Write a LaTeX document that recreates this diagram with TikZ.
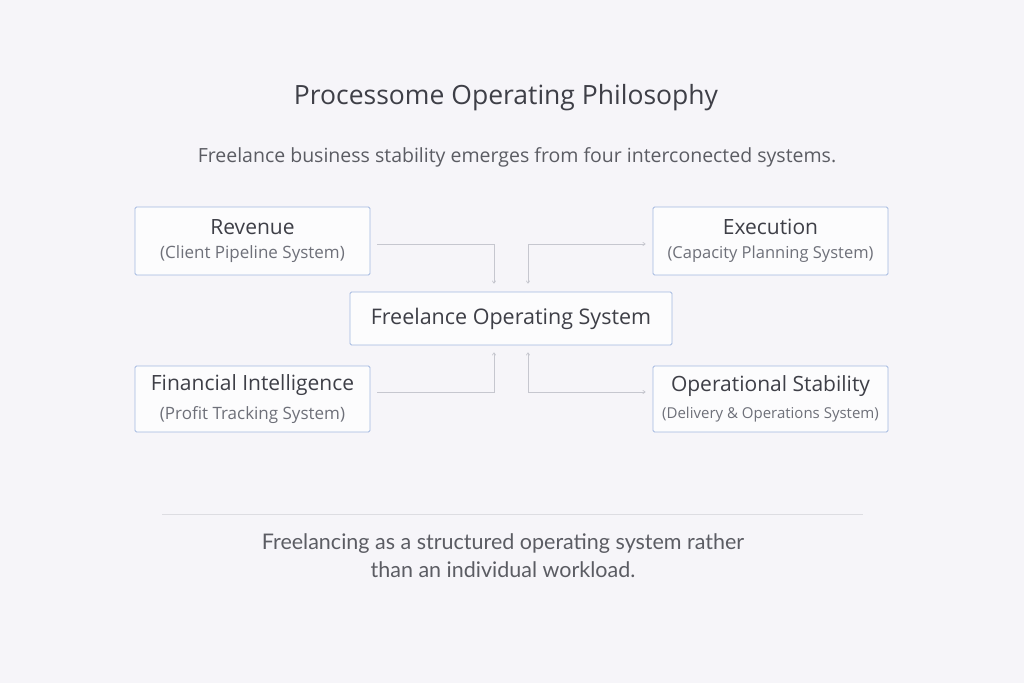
\documentclass[tikz,border=0pt]{standalone}
\usepackage{fontspec}
\setmainfont{Open Sans}
\newfontfamily\notefont{Lato}
\usetikzlibrary{arrows.meta}
\definecolor{bgcol}{HTML}{F6F5F9}
\definecolor{boxline}{HTML}{A3B8E0}
\definecolor{ink}{HTML}{3E3F47}
\definecolor{soft}{HTML}{6E7079}
\definecolor{wire}{HTML}{C6C7CF}
\newcommand{\Frame}{(0,0) rectangle (1024,683)}
\newcommand{\sysbox}[3][17]{{\fontsize{21}{24}\selectfont #2}\\[10pt]{\fontsize{#1}{20}\selectfont\color{soft}#3}}

\begin{document}
\begin{tikzpicture}[x=1pt,y=-1pt,
  box/.style={draw=boxline,fill=white!70!bgcol,line width=0.9pt,rounded corners=1.5pt,
    minimum width=235pt,minimum height=68pt,align=center,text=ink,inner sep=0pt},
  link/.style={draw=wire,line width=0.7pt,-{To[length=3pt,width=4pt]}},
  both/.style={draw=wire,line width=0.7pt,{To[length=3pt,width=4pt]}-{To[length=3pt,width=4pt]}}]
\fill[bgcol] \Frame;
\useasboundingbox \Frame;
\node[text=ink,font=\fontsize{26.5}{30}\selectfont] (title) at (506,98) {Processome Operating Philosophy};
\node[text=ink!85,font=\fontsize{19.5}{23}\selectfont] (lead) at (517,157) {Freelance business stability emerges from four interconected systems.};
\node[box] (rev) at (252.5,241) {\sysbox{Revenue}{(Client Pipeline System)}};
\node[box] (exe) at (770.5,241) {\sysbox[16.5]{Execution}{(Capacity Planning System)}};
\node[box,minimum width=322pt,minimum height=53pt,font=\fontsize{21.5}{24}\selectfont] (core) at (511,318.5) {Freelance Operating System};
\node[box,minimum height=66pt] (fin) at (252.5,399) {\sysbox{Financial Intelligence}{(Profit Tracking System)}};
\node[box,minimum height=66pt] (ops) at (770.5,399) {\sysbox[15]{Operational Stability}{(Delivery \& Operations System)}};
\coordinate (sepl) at (162,514);
\coordinate (sepr) at (863,514);
\draw[wire!60,line width=0.6pt] (sepl) -- (sepr);
\node[text=ink!85,align=center,font=\notefont\fontsize{21.5}{28}\selectfont] (note) at (503,556) {Freelancing as a structured operating system rather\\than an individual workload.};
\draw[link] ([xshift=7pt,yshift=-3pt]rev.east) -| ([xshift=-17pt,yshift=8pt]core.north);
\draw[both] ([xshift=17pt,yshift=8pt]core.north) |- ([xshift=-7pt,yshift=-3pt]exe.west);
\draw[link] ([xshift=7pt,yshift=7pt]fin.east) -| ([xshift=-17pt,yshift=-7pt]core.south);
\draw[both] ([xshift=17pt,yshift=-7pt]core.south) |- ([xshift=-7pt,yshift=7pt]ops.west);
\end{tikzpicture}
\end{document}
